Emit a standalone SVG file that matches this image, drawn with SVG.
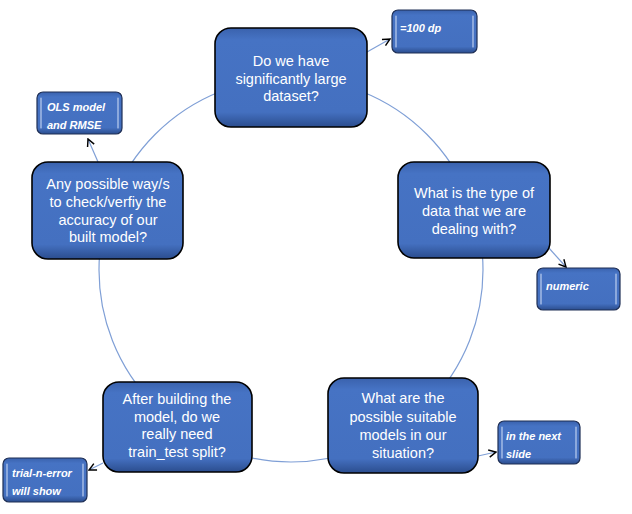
<svg xmlns="http://www.w3.org/2000/svg" width="632" height="514" viewBox="0 0 632 514">
<style>
.main{font-family:"Liberation Sans",Arial,sans-serif;font-size:14.5px;fill:#fff;text-anchor:middle}
.small{font-family:"Liberation Sans",Arial,sans-serif;font-size:11px;font-weight:bold;font-style:italic;fill:#fff}
.box{fill:url(#g);stroke:#000;stroke-width:1.6}
.sbox{fill:url(#g);stroke:#1f2f55;stroke-width:1.2}
.hl{stroke:url(#hv);stroke-width:2.5;stroke-linecap:round}
.shl{stroke:#dbe6fa;stroke-width:1.2;stroke-linecap:round;opacity:.8}
.con{fill:none;stroke:#7f9fd6;stroke-width:1.2}
</style>
<defs>
<linearGradient id="g" x1="0" y1="0" x2="0" y2="1">
<stop offset="0" stop-color="#3a62ad"/>
<stop offset="0.12" stop-color="#4673c4"/>
<stop offset="0.85" stop-color="#4470c0"/>
<stop offset="1" stop-color="#2b4d8e"/>
</linearGradient>
<linearGradient id="hv" x1="0" y1="0" x2="0" y2="1">
<stop offset="0" stop-color="#dfe9fb" stop-opacity="0.3"/>
<stop offset="0.5" stop-color="#eef4ff" stop-opacity="0.95"/>
<stop offset="1" stop-color="#dfe9fb" stop-opacity="0.3"/>
</linearGradient>
<marker id="ah" viewBox="0 0 10 10" refX="9" refY="5" markerWidth="9" markerHeight="9" markerUnits="userSpaceOnUse" orient="auto">
<path d="M1,1 L9,5 L1,9" fill="none" stroke="#000" stroke-width="1.6"/>
</marker>
</defs>
<g id="connectors">
<circle cx="291" cy="270" r="192" class="con"/>
<line x1="367" y1="52" x2="390" y2="39" class="con" marker-end="url(#ah)"/>
<line x1="98" y1="162" x2="88" y2="139" class="con" marker-end="url(#ah)"/>
<line x1="548" y1="247" x2="566" y2="267" class="con" marker-end="url(#ah)"/>
<line x1="478" y1="456" x2="496" y2="452" class="con" marker-end="url(#ah)"/>
<line x1="103" y1="463" x2="89" y2="470" class="con" marker-end="url(#ah)"/>
</g>
<g id="n1">
<rect x="215" y="28" width="152" height="99" rx="16" class="box"/>
<line x1="224" y1="44" x2="224" y2="112" class="hl"/><line x1="358" y1="44" x2="358" y2="112" class="hl"/>
<text class="main"><tspan x="291" y="66">Do we have</tspan><tspan x="291" y="83.5">significantly large</tspan><tspan x="291" y="101">dataset?</tspan></text>
</g>
<g id="n2">
<rect x="398" y="162" width="152" height="96" rx="16" class="box"/>
<line x1="407" y1="178" x2="407" y2="244" class="hl"/><line x1="541" y1="178" x2="541" y2="244" class="hl"/>
<text class="main"><tspan x="474" y="198">What is the type of</tspan><tspan x="474" y="216">data that we are</tspan><tspan x="474" y="234">dealing with?</tspan></text>
</g>
<g id="n3">
<rect x="328" y="378" width="150" height="95" rx="16" class="box"/>
<line x1="337" y1="394" x2="337" y2="459" class="hl"/><line x1="469" y1="394" x2="469" y2="459" class="hl"/>
<text class="main"><tspan x="403" y="403">What are the</tspan><tspan x="403" y="421.5">possible suitable</tspan><tspan x="403" y="440">models in our</tspan><tspan x="403" y="457.5">situation?</tspan></text>
</g>
<g id="n4">
<rect x="103" y="382" width="149" height="90" rx="16" class="box"/>
<line x1="112" y1="398" x2="112" y2="458" class="hl"/><line x1="243" y1="398" x2="243" y2="458" class="hl"/>
<text class="main"><tspan x="177" y="404">After building the</tspan><tspan x="177" y="421.5">model, do we</tspan><tspan x="177" y="439">really need</tspan><tspan x="177" y="457">train_test split?</tspan></text>
</g>
<g id="n5">
<rect x="32" y="162" width="151" height="97" rx="16" class="box"/>
<line x1="41" y1="178" x2="41" y2="244" class="hl"/><line x1="174" y1="178" x2="174" y2="244" class="hl"/>
<text class="main"><tspan x="108" y="189">Any possible way/s</tspan><tspan x="108" y="207">to check/verfiy the</tspan><tspan x="108" y="224.5">accuracy of our</tspan><tspan x="108" y="242">built model?</tspan></text>
</g>
<g id="b1">
<rect x="392" y="10" width="85" height="43" rx="6" class="sbox"/>
<line x1="396" y1="16" x2="396" y2="47" class="shl"/><line x1="473" y1="16" x2="473" y2="47" class="shl"/>
<text class="small" x="400" y="32">=100 dp</text>
</g>
<g id="b2">
<rect x="37" y="92" width="85" height="42" rx="6" class="sbox"/>
<line x1="41" y1="98" x2="41" y2="128" class="shl"/><line x1="118" y1="98" x2="118" y2="128" class="shl"/>
<text class="small"><tspan x="47" y="111">OLS model</tspan><tspan x="47" y="129">and RMSE</tspan></text>
</g>
<g id="b3">
<rect x="537" y="268" width="83" height="42" rx="6" class="sbox"/>
<line x1="541" y1="274" x2="541" y2="304" class="shl"/><line x1="616" y1="274" x2="616" y2="304" class="shl"/>
<text class="small" x="546" y="290">numeric</text>
</g>
<g id="b4">
<rect x="498" y="421" width="82" height="43" rx="6" class="sbox"/>
<line x1="502" y1="427" x2="502" y2="458" class="shl"/><line x1="576" y1="427" x2="576" y2="458" class="shl"/>
<text class="small"><tspan x="506" y="440">in the next</tspan><tspan x="506" y="458">slide</tspan></text>
</g>
<g id="b5">
<rect x="3" y="458" width="84" height="44" rx="6" class="sbox"/>
<line x1="7" y1="464" x2="7" y2="496" class="shl"/><line x1="83" y1="464" x2="83" y2="496" class="shl"/>
<text class="small"><tspan x="12" y="477">trial-n-error</tspan><tspan x="12" y="495">will show</tspan></text>
</g>
</svg>
